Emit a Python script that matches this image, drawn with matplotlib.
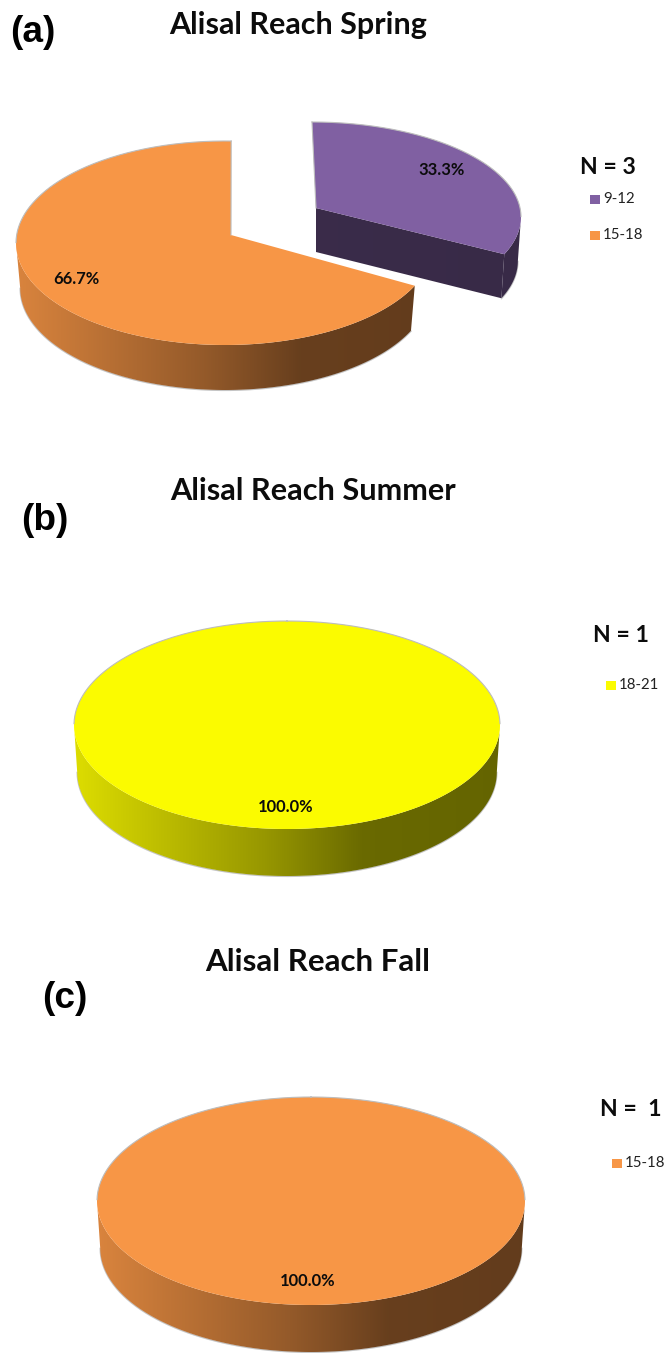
import numpy as np
import matplotlib
matplotlib.use("Agg")
import matplotlib.pyplot as plt
from matplotlib.patches import Polygon, Rectangle

# ---- data ----
spring_bins = ["9-12", "15-18"]
spring_counts = [1, 2]
spring_labels = ["33.3%", "66.7%"]
summer_bins = ["18-21"]
summer_counts = [1]
summer_labels = ["100.0%"]
fall_bins = ["15-18"]
fall_counts = [1]
fall_labels = ["100.0%"]

PURPLE = "#8060A2"
ORANGE = "#F79646"
YELLOW = "#FBFB00"
BODY = "Lato"
PANEL = "Liberation Sans"

W, H = 665, 1353
fig = plt.figure(figsize=(W / 100, H / 100), dpi=100)
ax = fig.add_axes([0, 0, 1, 1])
ax.set_axis_off()


def fs(px):
    return px * 0.72


def warp(t, g):
    """Share angle -> rim angle, with the foreshortening of a tilted pie."""
    return t + g["k"] * np.sin(np.radians(2 * t)) + g["off"]


def rim(g, t, shrink=1.0, drop=0.0):
    r = np.radians(t)
    return np.column_stack([g["cx"] + g["rx"] * shrink * np.sin(r),
                            g["cy"] + drop - g["ry"] * np.cos(r)])


def ramp_patch(poly_xy, x0, x1, rgb, stops, z):
    xs = np.linspace(0, 1, 256)
    shade = np.interp(xs, stops[0], stops[1])
    img = (shade[None, :, None] * np.array(rgb)[None, None, :]).clip(0, 1)
    ymin, ymax = poly_xy[:, 1].min(), poly_xy[:, 1].max()
    im = ax.imshow(img, extent=(x0, x1, ymax, ymin), aspect="auto", zorder=z,
                   interpolation="bilinear")
    im.set_clip_path(Polygon(poly_xy, closed=True, transform=ax.transData))


def slice3d(g, t0, t1, colour, stops):
    rgb = matplotlib.colors.to_rgb(colour)
    full = (t1 - t0) >= 359.99
    r0, r1 = warp(t0, g), warp(t1, g)
    apex = np.array(g["apex"], dtype=float)
    d, s = g["depth"], g["shrink"]
    x0, x1 = g["cx"] - g["rx"], g["cx"] + g["rx"]

    # outer skirt
    a0, a1 = max(r0, 90), min(r1, 270)
    if a1 > a0:
        tt = np.linspace(a0, a1, 240)
        top = rim(g, tt)
        low = rim(g, tt, s, d)
        ax.plot(low[:, 0], low[:, 1] + 0.4, color="#c4c4c4", lw=1.0, zorder=2)
        ramp_patch(np.vstack([top, low[::-1]]), x0, x1, rgb, stops, 3)
    # cut face that turns towards the viewer
    if not full and 0 < t1 < 180:
        end = rim(g, np.array([r1]))[0]
        endl = rim(g, np.array([r1]), s, d)[0]
        ramp_patch(np.array([apex, end, endl, apex + [0, d]]), x0, x1, rgb, stops, 3)
    # top surface
    tt = np.linspace(r0, r1, 360)
    edge = rim(g, tt)
    xy = edge if full else np.vstack([apex, edge])
    ax.add_patch(Polygon(xy, closed=True, fc=colour, ec="none", zorder=4))
    # thin grey outline on the far side only
    mask = (tt % 360 >= 270) | (tt % 360 <= 90)
    ax.plot(np.where(mask, edge[:, 0], np.nan), np.where(mask, edge[:, 1], np.nan),
            color="#bdbdbd", lw=0.8, zorder=5)
    if not full:
        for tip, ang in ((edge[0], r0), (edge[-1], r1)):
            if ang % 360 < 30 or ang % 360 > 330:
                ax.plot([apex[0], tip[0]], [apex[1], tip[1]], color="#bdbdbd", lw=0.8, zorder=5)


def pie3d(counts, colours, geoms, stops_list):
    total = sum(counts)
    start = 0.0
    for c, col, g, st in zip(counts, colours, geoms, stops_list):
        sweep = 360.0 * c / total
        slice3d(g, start, start + sweep, col, st)
        start += sweep


WARM = ([0, 0.45, 0.68, 1], [0.88, 0.60, 0.42, 0.40])
FLAT = ([0, 1], [0.47, 0.44])

# (a) spring
pie3d(spring_counts, [PURPLE, ORANGE],
      [dict(cx=312, cy=217, rx=209, ry=95, apex=(316, 208), depth=44, shrink=0.985, k=8, off=0),
       dict(cx=225, cy=243, rx=209, ry=102, apex=(231, 235), depth=45, shrink=0.98, k=8, off=1.7)],
      [FLAT, WARM])
# (b) summer
pie3d(summer_counts, [YELLOW],
      [dict(cx=287, cy=725, rx=213, ry=104, apex=(287, 725), depth=47, shrink=0.985, k=0, off=0)], [WARM])
# (c) fall
pie3d(fall_counts, [ORANGE],
      [dict(cx=311, cy=1201, rx=214, ry=104, apex=(311, 1201), depth=47, shrink=0.985, k=0, off=0)], [WARM])

# ---- text ----
def title(x, y, s, px=30.5):
    ax.text(x, y, s, family=BODY, weight="bold", fontsize=fs(px),
            ha="center", va="center", color="#0c0c0c", zorder=6)

def panel(x, y, s):
    ax.text(x, y, s, family=PANEL, weight="bold", fontsize=fs(37),
            ha="center", va="center", color="black", zorder=6)

def nlabel(x, y, s):
    ax.text(x, y, s, family=BODY, weight="bold", fontsize=fs(23),
            ha="left", va="center", color="#0c0c0c", zorder=6)

def plabel(x, y, s):
    ax.text(x, y, s, family=BODY, weight="bold", fontsize=fs(16.5),
            ha="center", va="center", color="#0c0c0c", zorder=6)

def legend(x, ys, names, colours):
    for y, name, col in zip(ys, names, colours):
        ax.add_patch(Rectangle((x, y - 4.5), 9.5, 9.5, fc=col, ec="none", zorder=6))
        ax.text(x + 13, y, name, family=BODY, fontsize=fs(15),
                ha="left", va="center", color="#222222", zorder=6)

title(298, 25, "Alisal Reach Spring")
title(313, 491, "Alisal Reach Summer", 30.8)
title(318, 962, "Alisal Reach Fall", 31.3)
panel(33, 32, "(a)")
panel(45, 520, "(b)")
panel(65, 998, "(c)")

nlabel(580, 167, "N = 3")
nlabel(593, 636, "N = 1")
nlabel(600, 1109, "N =  1")
legend(590, [199, 235], spring_bins, [PURPLE, ORANGE])
legend(606, [685], summer_bins, [YELLOW])
legend(612, [1163], fall_bins, [ORANGE])

plabel(442, 170, spring_labels[0])
plabel(76, 279, spring_labels[1])
plabel(286, 807, summer_labels[0])
plabel(308, 1281, fall_labels[0])

ax.set_xlim(0, W)
ax.set_ylim(H, 0)
fig.savefig("out.png", dpi=100, facecolor="white")
